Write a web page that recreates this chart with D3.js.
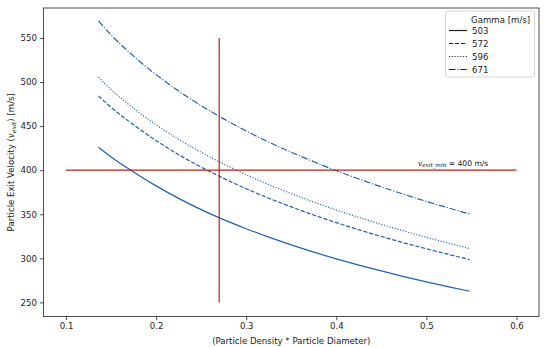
<!DOCTYPE html>
<html><head><meta charset="utf-8">
<script src="https://cdn.jsdelivr.net/npm/d3@7"></script>
<style>body{margin:0;background:#fff}svg{display:block}text{font-family:"DejaVu Sans",sans-serif}</style>
</head><body><svg id="c" width="550" height="347"></svg>
<script>
const xVals = [0.136,0.15,0.175,0.2,0.225,0.25,0.275,0.3,0.325,0.35,0.375,0.4,0.425,0.45,0.475,0.5,0.525,0.548];
const gammaLabels = ["503","572","596","671"];
const v503 = [426,415.0,398.0,382.2,368.0,355.3,343.9,333.6,324.0,315.2,307.0,299.4,292.3,285.7,279.3,273.3,267.6,262.6];
const v572 = [484.3,471.3,451.5,433.6,417.6,403.5,390.7,379.0,368.2,358.4,349.1,340.5,332.4,324.8,317.6,310.8,304.3,298.6];
const v596 = [505.5,491.5,470.2,451.5,435.0,420.3,407.0,394.8,383.6,373.4,363.8,354.8,346.4,338.5,331.0,323.9,317.1,311.1];
const v671 = [569.5,553.5,529.4,508.4,489.8,473.2,458.2,444.5,431.9,420.4,409.6,399.4,390.0,381.1,372.6,364.6,357.0,350.3];
const xTicks = [0.1,0.2,0.3,0.4,0.5,0.6];
const yTicks = [250,300,350,400,450,500,550];
const vMin = 400, hLineX = [0.1,0.6];
const vLineX = 0.27, vLineY = [250,550];

const series = [v503,v572,v596,v671];
const dashes = [null,"4.2,1.8","1.1,1.7","6.5,1.8,1.1,1.8"];
const lineColor = "#2261ae", redColor = "#b5241a";
const FS = "8.6px";

const svg = d3.select("#c");
const L=43.5,R=539,T=8,B=316.5;
const x = d3.scaleLinear().domain([0.075,0.625]).range([L,R]);
const y = d3.scaleLinear().domain([234,584]).range([B,T]);

const xa = svg.append("g").attr("transform",`translate(0,${B})`)
  .call(d3.axisBottom(x).tickValues(xTicks).tickFormat(d3.format(".1f")).tickSize(3.5).tickPadding(3));
const ya = svg.append("g").attr("transform",`translate(${L},0)`)
  .call(d3.axisLeft(y).tickValues(yTicks).tickFormat(d3.format("d")).tickSize(3.5).tickPadding(3));
[xa,ya].forEach(a=>{a.select(".domain").remove();a.selectAll("line").attr("stroke","#222").attr("stroke-width",0.8);
  a.selectAll("text").attr("font-size",FS).attr("fill","#222").attr("font-family","DejaVu Sans");});

const line = d3.line().x((d,i)=>x(xVals[i])).y(d=>y(d)).curve(d3.curveMonotoneX);
series.forEach((s,k)=>{
  const p = svg.append("path").datum(s).attr("d",line).attr("fill","none")
    .attr("stroke",lineColor).attr("stroke-width",1.2);
  if(dashes[k]) p.attr("stroke-dasharray",dashes[k]);
});

svg.append("line").attr("x1",x(hLineX[0])).attr("x2",x(hLineX[1])).attr("y1",y(vMin)).attr("y2",y(vMin))
  .attr("stroke",redColor).attr("stroke-width",1.2);
svg.append("line").attr("x1",x(vLineX)).attr("x2",x(vLineX)).attr("y1",y(vLineY[0])).attr("y2",y(vLineY[1]))
  .attr("stroke",redColor).attr("stroke-width",1.2);

const ann = svg.append("text").attr("x",418).attr("y",y(vMin)-4.5).attr("font-size","7.6px").attr("fill","#111");
ann.append("tspan").attr("font-family","DejaVu Serif").attr("font-style","italic").text("v");
ann.append("tspan").attr("font-family","DejaVu Serif").attr("font-style","italic").attr("font-size","5.6px").attr("dy","1.6").text("exit_min");
ann.append("tspan").attr("dy","-1.6").text(" = 400 m/s");

svg.append("rect").attr("x",L).attr("y",T).attr("width",R-L).attr("height",B-T)
  .attr("fill","none").attr("stroke","#222").attr("stroke-width",0.8);

svg.append("text").attr("x",(L+R)/2).attr("y",344).attr("text-anchor","middle")
  .attr("font-size",FS).attr("fill","#222").text("(Particle Density * Particle Diameter)");
const yl = svg.append("text").attr("transform",`translate(14,${(T+B)/2}) rotate(-90)`).attr("text-anchor","middle")
  .attr("font-size",FS).attr("fill","#222");
yl.append("tspan").text("Particle Exit Velocity (");
yl.append("tspan").attr("font-family","DejaVu Serif").attr("font-style","italic").text("v");
yl.append("tspan").attr("font-family","DejaVu Serif").attr("font-style","italic").attr("font-size","6.2px").attr("dy","1.8").text("exit");
yl.append("tspan").attr("dy","-1.8").text(") [m/s]");

const lg = svg.append("g");
lg.append("rect").attr("x",445.5).attr("y",11).attr("width",89).attr("height",66).attr("rx",2)
  .attr("fill","#fff").attr("fill-opacity",0.8).attr("stroke","#ccc").attr("stroke-width",0.8);
lg.append("text").attr("x",471).attr("y",23).attr("font-size",FS).attr("fill","#222").text("Gamma [m/s]");
gammaLabels.forEach((g,i)=>{
  const yy = 33.5 + i*13;
  const l = lg.append("line").attr("x1",449).attr("x2",467).attr("y1",yy-3).attr("y2",yy-3)
    .attr("stroke","#222").attr("stroke-width",1.2);
  if(dashes[i]) l.attr("stroke-dasharray",dashes[i]);
  lg.append("text").attr("x",472).attr("y",yy).attr("font-size",FS).attr("fill","#222").text(g);
});
</script></body></html>
